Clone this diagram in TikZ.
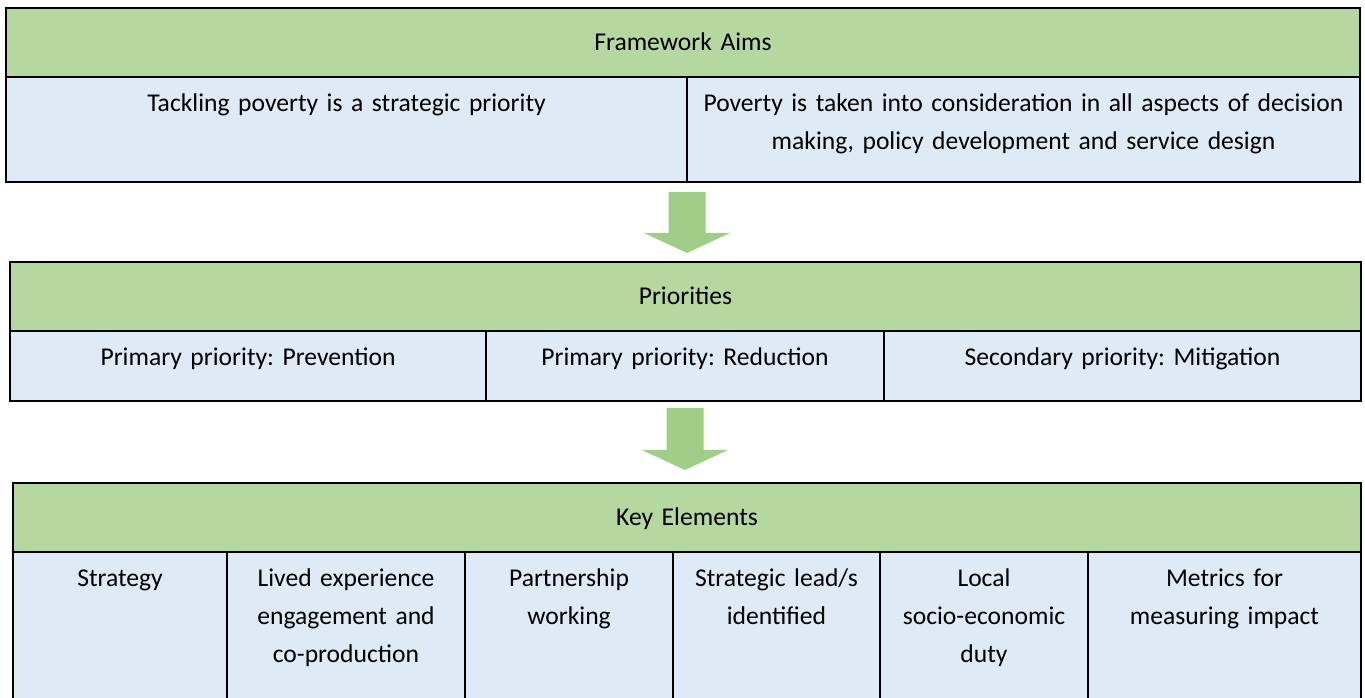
\documentclass[tikz,border=0pt]{standalone}
\usepackage{fontspec}
\setmainfont{Carlito}
\frenchspacing
\definecolor{headgreen}{RGB}{181, 215, 160}
\definecolor{cellblue}{RGB}{222, 234, 246}
\definecolor{flowgreen}{RGB}{160, 206, 136}
\usetikzlibrary{calc, positioning}
\tikzset{
    cell/.style={draw, line width=1.7pt, inner sep=0pt, outer sep=0pt, align=center, anchor=north west,
        font={\fontsize{19.2pt}{28.5pt}\selectfont}},
    headcell/.style={cell, fill=headgreen, text height=32.25pt, text depth=19.5pt},
    bodycell/.style={cell, fill=cellblue, text height=25.9pt, text depth=#1},
    flowarrow/.style={fill=flowgreen, to path={
        ($(\tikztostart)+(-18.5,0)$) -- ($(\tikztostart)+(18.5,0)$) -- ($(\tikztotarget)+(18.5,-20)$)
        -- ($(\tikztotarget)+(43,-20)$) -- (\tikztotarget) -- ($(\tikztotarget)+(-43,-20)$)
        -- ($(\tikztotarget)+(-18.5,-20)$) -- cycle}},
}

\begin{document}
\begin{tikzpicture}[x=0.75pt, y=-0.75pt]
    \useasboundingbox (0,0) rectangle (1365,698);
    \clip (0,0) rectangle (1365,698);

    % framework aims
    \node[headcell, text width=1015.5pt] (aimsHead) at (6,8) {Framework Aims};
    \node[bodycell=52.85pt, text width=510.75pt] (aimsA) at (aimsHead.south west) {Tackling poverty is a strategic priority};
    \node[bodycell=52.85pt, text width=504.75pt] (aimsB) at (aimsA.north east) {Poverty is taken into consideration in all aspects of decision\\making, policy development and service design};

    % priorities
    \node[headcell, text width=1013.25pt] (prioHead) at (10,262) {Priorities};
    \node[bodycell=26.6pt, text width=357pt] (prioA) at (prioHead.south west) {Primary priority: Prevention};
    \node[bodycell=26.6pt, text width=298.5pt] (prioB) at (prioA.north east) {Primary priority: Reduction};
    \node[bodycell=26.6pt, text width=357.75pt] (prioC) at (prioB.north east) {Secondary priority: Mitigation};

    % key elements
    \node[headcell, text width=1011pt] (keyHead) at (13,483) {Key Elements};
    \node[bodycell=146.6pt, text width=160.5pt] (keyA) at (keyHead.south west) {Strategy};
    \node[bodycell=146.6pt, text width=178.5pt] (keyB) at (keyA.north east) {Lived experience\\engagement and\\co-production};
    \node[bodycell=146.6pt, text width=156pt] (keyC) at (keyB.north east) {Partnership\\working};
    \node[bodycell=146.6pt, text width=155.25pt] (keyD) at (keyC.north east) {Strategic lead/s\\identified};
    \node[bodycell=146.6pt, text width=156pt] (keyE) at (keyD.north east) {Local\\socio-economic\\duty};
    \node[bodycell=146.6pt, text width=204.75pt] (keyF) at (keyE.north east) {Metrics for\\measuring impact};

    % block arrows between the tables
    \path[flowarrow] ($(aimsB.south west)+(0,10)$) to ($(aimsB.south west |- prioHead.north)+(0,-9)$);
    \path[flowarrow] ($(prioB.south)+(0,7)$) to ($(prioB.south |- keyHead.north)+(0,-13)$);
\end{tikzpicture}
\end{document}
